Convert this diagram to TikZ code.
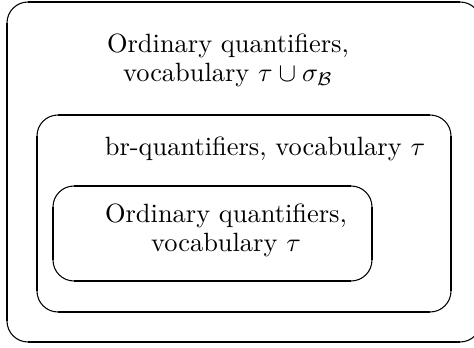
\documentclass[tikz,border=0pt]{standalone}
\usepackage{amssymb}
\begin{document}
\begin{tikzpicture}[x=0.3786pt,y=-0.3786pt,
  arcline/.style={line width=0.4pt},
  edgeline/.style={line width=0.8pt,line cap=butt},
  lbl/.style={inner sep=0pt,anchor=base,align=center,font=\fontsize{10}{11.2}\selectfont}]
\useasboundingbox (0,0) rectangle (474,348);
% outer box
\draw[arcline,rounded corners=7.95pt] (7,2) rectangle (481,342);
\draw[edgeline] (28,2) -- (460,2);
\draw[edgeline] (28,342) -- (460,342);
\draw[edgeline] (7,23) -- (7,321);
% middle box
\draw[arcline,rounded corners=7.95pt] (37,115) rectangle (451,312);
\draw[edgeline] (58,115) -- (430,115);
\draw[edgeline] (58,312) -- (430,312);
\draw[edgeline] (37,136) -- (37,291);
\draw[edgeline] (451,136) -- (451,291);
% inner box
\draw[arcline,rounded corners=7.95pt] (53,186) rectangle (372,281);
\draw[edgeline] (74,186) -- (351,186);
\draw[edgeline] (74,281) -- (351,281);
\draw[edgeline] (53,207) -- (53,260);
\draw[edgeline] (372,207) -- (372,260);
% texts
\node[lbl] (outertext) at (228,82) {Ordinary quantifiers,\\vocabulary $\tau\cup\sigma_{\mathcal{B}}$};
\node[lbl] (midtext) at (265,156) {br-quantifiers, vocabulary $\tau$};
\node[lbl] (innertext) at (226,252) {Ordinary quantifiers,\\vocabulary $\tau$};
\end{tikzpicture}
\end{document}
